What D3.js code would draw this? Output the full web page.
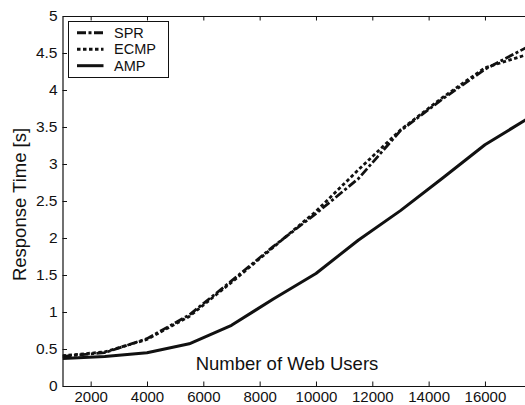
<!DOCTYPE html>
<html><head><meta charset="utf-8">
<script src="https://cdn.jsdelivr.net/npm/d3@7"></script>
<style>
html,body{margin:0;padding:0;background:#fff;}
svg{display:block;font-family:Arial,"Liberation Sans",sans-serif;}
</style></head>
<body>
<svg id="chart" width="525" height="405"></svg>
<script>
const users = [1000,2500,4000,5500,7000,8500,10000,11500,13000,14500,16000,17500];
const spr  = [0.40,0.45,0.64,0.96,1.42,1.89,2.33,2.80,3.45,3.88,4.28,4.58];
const ecmp = [0.41,0.46,0.63,0.94,1.40,1.88,2.36,2.92,3.46,3.90,4.30,4.48];
const amp  = [0.37,0.40,0.45,0.57,0.82,1.18,1.52,1.97,2.37,2.81,3.26,3.61];
const xTicks = [2000,4000,6000,8000,10000,12000,14000,16000];
const yTicks = [0,0.5,1,1.5,2,2.5,3,3.5,4,4.5,5];
const seriesNames = ["SPR","ECMP","AMP"];
const dashes = {SPR:"9,2.5,3,2.5", ECMP:"3.5,2.5", AMP:null};

const svg = d3.select("#chart");
const L=62.5, T=16, B=386, R=527.2;
const x = d3.scaleLinear().domain([1000,17500]).range([L,R]);
const y = d3.scaleLinear().domain([0,5]).range([B,T]);
const ink = "#111";

const series = [
  {name:"SPR", values:spr},
  {name:"ECMP", values:ecmp},
  {name:"AMP", values:amp}
];

const defs = svg.append("defs");
defs.append("clipPath").attr("id","clip").append("rect")
  .attr("x",L).attr("y",T).attr("width",R-L).attr("height",B-T);

const line = d3.line().x((d,i)=>x(users[i])).y(d=>y(d));
const g = svg.append("g").attr("clip-path","url(#clip)");
series.forEach(s=>{
  g.append("path").datum(s.values)
    .attr("d",line)
    .attr("fill","none")
    .attr("stroke",ink)
    .attr("stroke-width",s.name==="AMP"?3:2.8)
    .attr("stroke-dasharray",dashes[s.name])
    .attr("stroke-linejoin","round");
});

// axes
const fs = "15px";
const xAxis = d3.axisBottom(x).tickValues(xTicks).tickFormat(d3.format("d")).tickSizeInner(-4.5).tickSizeOuter(0).tickPadding(8);
const gx = svg.append("g").attr("transform",`translate(0,${B})`).call(xAxis);
const xTop = d3.axisTop(x).tickValues(xTicks).tickFormat("").tickSizeInner(-4.5).tickSizeOuter(0);
const gxt = svg.append("g").attr("transform",`translate(0,${T})`).call(xTop);
const yAxis = d3.axisLeft(y).tickValues(yTicks).tickFormat(d=>d).tickSizeInner(-4.5).tickSizeOuter(0).tickPadding(5);
const gy = svg.append("g").attr("transform",`translate(${L},0)`).call(yAxis);
[gx,gxt,gy].forEach(a=>{
  a.selectAll("path.domain").attr("stroke",ink).attr("stroke-width",1.2);
  a.selectAll(".tick line").attr("stroke",ink).attr("stroke-width",1);
  a.selectAll("text").attr("fill",ink).style("font-size",fs).style("font-family","Arial,'Liberation Sans',sans-serif");
});
gx.selectAll("text").attr("dy","0.5em");
gy.selectAll("text").style("font-size","15.5px");

// titles
svg.append("text").attr("x",287).attr("y",370).attr("text-anchor","middle")
  .attr("fill",ink).style("font-size","18.5px").text("Number of Web Users");
svg.append("text").attr("transform","translate(26,204.5) rotate(-90)").attr("text-anchor","middle")
  .attr("fill",ink).style("font-size","18.5px").text("Response Time [s]");

// legend
const lg = svg.append("g");
lg.append("rect").attr("x",68.5).attr("y",21.5).attr("width",100).attr("height",56)
  .attr("fill","#fff").attr("stroke",ink).attr("stroke-width",1);
seriesNames.forEach((n,i)=>{
  const yy = 32.7 + i*16.5;
  lg.append("line").attr("x1",77).attr("x2",103.5).attr("y1",yy).attr("y2",yy)
    .attr("stroke",ink).attr("stroke-width",3).attr("stroke-dasharray",dashes[n]);
  lg.append("text").attr("x",114).attr("y",yy).attr("dy","0.36em")
    .attr("fill",ink).style("font-size","14.5px").text(n);
});
</script>
</body></html>
